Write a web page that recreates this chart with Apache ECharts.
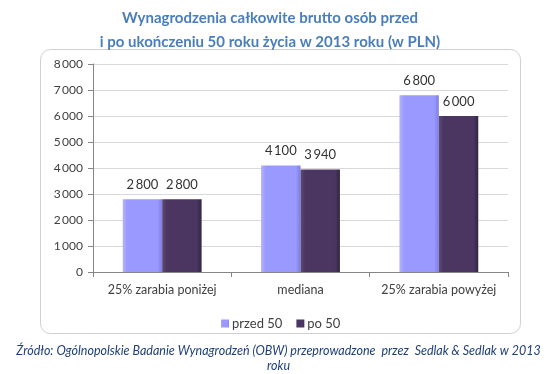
<!DOCTYPE html>
<html>
<head>
<meta charset="utf-8">
<script src="https://cdn.jsdelivr.net/npm/echarts@6/dist/echarts.min.js"></script>
<style>
html,body{margin:0;padding:0;background:#fff;}
#main{width:557px;height:374px;}
</style>
</head>
<body>
<div id="main"></div>
<script>
const categories = ['25% zarabia poniżej', 'mediana', '25% zarabia powyżej'];
const przed50 = [2800, 4100, 6800];
const po50 = [2800, 3940, 6000];
const seriesNames = ['przed 50', 'po 50'];
const titleText = 'Wynagrodzenia całkowite brutto osób przed\ni po ukończeniu 50 roku życia w 2013 roku (w PLN)';
const sourceText = 'Źródło: Ogólnopolskie Badanie Wynagrodzeń (OBW) przeprowadzone  przez  Sedlak & Sedlak w 2013\nroku';

const fmt = v => {
  const s = String(Math.round(v));
  return s.replace(/\B(?=(\d{3})+(?!\d))/g, '\u2009');
};
const FONT = 'Lato';

const chart = echarts.init(document.getElementById('main'), null, {renderer: 'canvas'});
const grad = (c1, c2, c3) => new echarts.graphic.LinearGradient(0, 0, 1, 0, [
  {offset: 0, color: c1}, {offset: 0.12, color: c2}, {offset: 0.88, color: c2}, {offset: 1, color: c3}
]);
chart.setOption({
  animation: false,
  backgroundColor: '#ffffff',
  title: {
    text: titleText,
    left: 265,
    top: 1,
    textAlign: 'center',
    textStyle: {fontFamily: FONT, fontSize: 15, fontWeight: 'bold', color: '#4a7ebb', lineHeight: 24}
  },
  graphic: [
    {type: 'rect', shape: {x: 40.5, y: 49.5, width: 480, height: 284, r: 10},
     style: {fill: 'none', stroke: '#d0d0d0', lineWidth: 1}, z: -1},
    {type: 'text', left: 'center', top: 343,
     style: {text: sourceText, font: 'italic 12.5px ' + FONT, fill: '#1f3f7a', textAlign: 'center', lineHeight: 15}}
  ],
  legend: {
    data: seriesNames,
    left: 216,
    top: 312,
    icon: 'rect',
    itemWidth: 8,
    itemHeight: 8,
    itemGap: 14,
    textStyle: {fontFamily: FONT, fontSize: 13, color: '#404040', padding: [0, 0, 0, -2]}
  },
  grid: {left: 93, right: 49, top: 64, bottom: 102, containLabel: false},
  xAxis: {
    type: 'category',
    data: categories,
    axisLine: {lineStyle: {color: '#868686'}},
    axisTick: {show: true, length: 5, lineStyle: {color: '#868686'}},
    axisLabel: {interval: 0, fontFamily: FONT, fontSize: 12.5, color: '#404040', margin: 11}
  },
  yAxis: {
    type: 'value',
    min: 0, max: 8000, interval: 1000,
    axisLine: {show: true, lineStyle: {color: '#868686'}},
    axisTick: {show: true, length: 5, inside: false, lineStyle: {color: '#868686'}},
    splitLine: {lineStyle: {color: '#d9d9d9'}},
    axisLabel: {fontFamily: FONT, fontSize: 12, color: '#404040', margin: 10, formatter: fmt}
  },
  series: [
    {name: seriesNames[0], type: 'bar', data: przed50, barGap: '0%', barCategoryGap: '43%',
     itemStyle: {color: grad('#b3b3ff', '#9999ff', '#7f7fe0')},
     label: {show: true, position: 'top', distance: 8, formatter: p => fmt(p.value), fontFamily: FONT, fontSize: 13, color: '#333'}},
    {name: seriesNames[1], type: 'bar', data: po50,
     itemStyle: {color: grad('#5e4a78', '#4a3660', '#33243f')},
     label: {show: true, position: 'top', distance: 8, formatter: p => fmt(p.value), fontFamily: FONT, fontSize: 13, color: '#333'}}
  ]
});
</script>
</body>
</html>
